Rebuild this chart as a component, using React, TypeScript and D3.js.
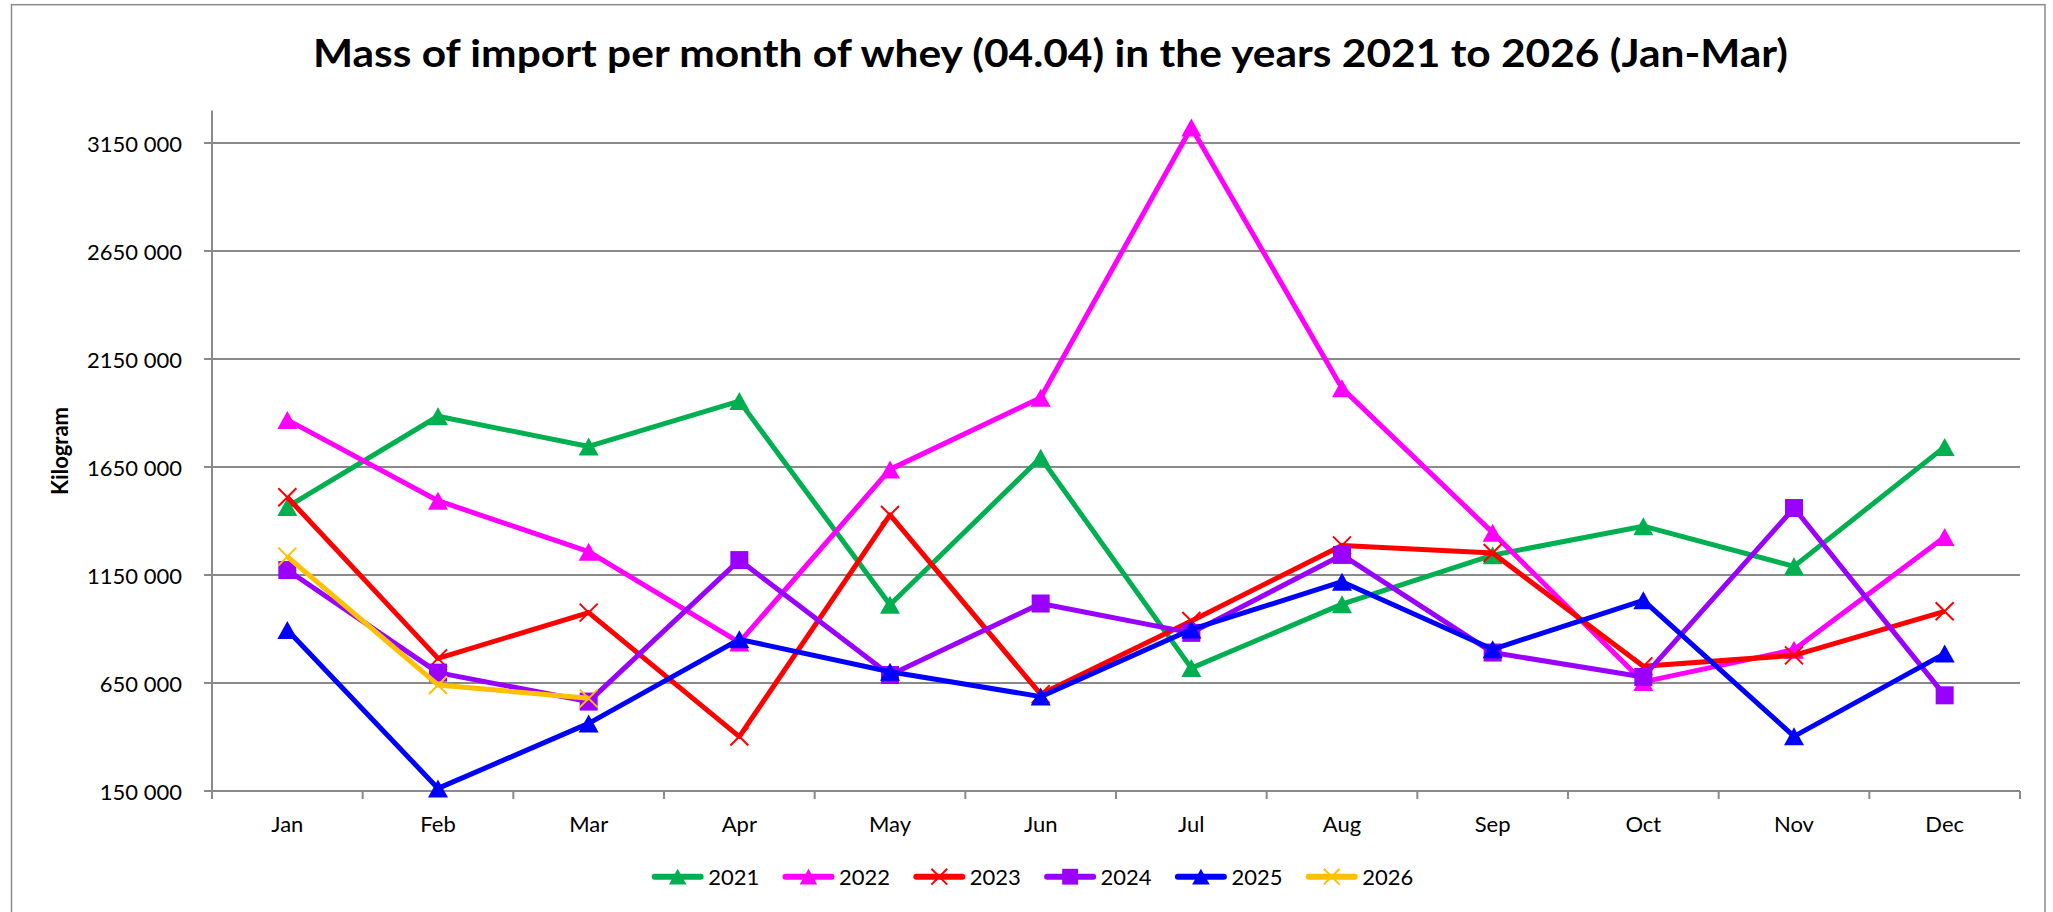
import React from "react";
import * as d3 from "d3";

const months = ["Jan", "Feb", "Mar", "Apr", "May", "Jun", "Jul", "Aug", "Sep", "Oct", "Nov", "Dec"];
const years = ["2021", "2022", "2023", "2024", "2025", "2026"];

const v2021 = [1465000, 1885000, 1745000, 1955000, 1012000, 1693000, 719000, 1015000, 1242000, 1376000, 1190000, 1743000];
const v2022 = [1868000, 1494000, 1258000, 838000, 1639000, 1971000, 3222000, 2015000, 1346000, 655000, 804000, 1326000];
const v2023 = [1510000, 764000, 976000, 402000, 1428000, 598000, 937000, 1287000, 1252000, 727000, 778000, 982000];
const v2024 = [1173000, 698000, 564000, 1219000, 687000, 1018000, 882000, 1243000, 791000, 678000, 1460000, 593000];
const v2025 = [895000, 162000, 463000, 852000, 702000, 587000, 898000, 1119000, 806000, 1033000, 403000, 786000];
const v2026 = [1235000, 641000, 579000];

const yTicks = [150000, 650000, 1150000, 1650000, 2150000, 2650000, 3150000];
const yTickLabels = ["150 000", "650 000", "1150 000", "1650 000", "2150 000", "2650 000", "3150 000"];

const colors = ["#00B050", "#FF00FF", "#FF0000", "#9900FF", "#0000FF", "#FFC000"];
const markerTypes = ["triangle", "triangle", "x", "square", "triangle", "x"];

const title = "Mass of import per month of whey (04.04) in the years 2021 to 2026 (Jan-Mar)";
const yAxisTitle = "Kilogram";

const seriesValues = [v2021, v2022, v2023, v2024, v2025, v2026];

const FONT = "Lato, 'Open Sans', sans-serif";
const GRID = "#8a8a8a";

function Marker({ type, x, y, color, s = 1 }: { type: string; x: number; y: number; color: string; s?: number }) {
  if (type === "triangle") {
    const w = 10 * s, h = 9 * s;
    return <path d={`M${x},${y - h} L${x + w},${y + h} L${x - w},${y + h} Z`} fill={color} />;
  }
  if (type === "square") {
    const a = 9 * s;
    return <rect x={x - a} y={y - a} width={2 * a} height={2 * a} fill={color} />;
  }
  const a = 9 * s;
  return (
    <path
      d={`M${x - a},${y - a} L${x + a},${y + a} M${x + a},${y - a} L${x - a},${y + a}`}
      stroke={color}
      strokeWidth={2}
      fill="none"
    />
  );
}

export default function App() {
  const W = 2053, H = 912;
  const left = 212, right = 2020, top = 110.6, bottom = 791;
  const x = d3.scaleBand<string>().domain(months).range([left, right]).padding(0);
  const y = d3.scaleLinear().domain([150000, 3300000]).range([bottom, top]);
  const cx = (m: string) => (x(m) as number) + x.bandwidth() / 2;

  const line = d3
    .line<number>()
    .x((_, i) => cx(months[i]))
    .y((d) => y(d));

  const boundaries = d3.range(months.length + 1).map((i) => left + i * x.bandwidth());

  return (
    <svg
      width={W}
      height={H}
      style={{ position: "absolute", left: 0, top: 0, background: "#fff" }}
      fontFamily={FONT}
    >
      <rect x={0} y={0} width={W} height={H} fill="#fff" />
      <rect x={11.5} y={4.7} width={2033.5} height={H + 20} fill="none" stroke="#8c8c8c" strokeWidth={1.5} />

      <text
        x={(313 + 1788) / 2}
        y={66.5}
        textAnchor="middle"
        fontWeight="bold"
        fontSize={38}
        textLength={1475}
        lengthAdjust="spacingAndGlyphs"
        fill="#000"
      >
        {title}
      </text>

      {/* gridlines */}
      {yTicks.map((t, i) =>
        i === 0 ? null : (
          <line key={"g" + t} x1={left - 8} x2={right} y1={y(t)} y2={y(t)} stroke={GRID} strokeWidth={2} />
        )
      )}
      {/* y axis */}
      <line x1={left} x2={left} y1={top} y2={bottom} stroke={GRID} strokeWidth={2} />
      <line x1={left - 8} x2={right} y1={bottom} y2={bottom} stroke={GRID} strokeWidth={2} />
      {boundaries.map((b) => (
        <line key={"t" + b} x1={b} x2={b} y1={bottom} y2={bottom + 8} stroke={GRID} strokeWidth={2} />
      ))}
      {yTicks.map((t, i) => (
        <text key={"yl" + t} x={182} y={y(t)} textAnchor="end" dominantBaseline="central" fontSize={22} fill="#000">
          {yTickLabels[i]}
        </text>
      ))}
      {months.map((m) => (
        <text key={"xl" + m} x={cx(m)} y={831.5} textAnchor="middle" fontSize={22} fill="#000">
          {m}
        </text>
      ))}
      <text
        transform={`translate(59,451) rotate(-90)`}
        textAnchor="middle"
        dominantBaseline="central"
        fontWeight="bold"
        fontSize={22}
        fill="#000"
      >
        {yAxisTitle}
      </text>

      {/* series */}
      {seriesValues.map((vals, si) => (
        <g key={"s" + si}>
          <path
            d={line(vals) || ""}
            fill="none"
            stroke={colors[si]}
            strokeWidth={5}
            strokeLinejoin="round"
          />
          {vals.map((v, i) => (
            <Marker key={i} type={markerTypes[si]} x={cx(months[i])} y={y(v)} color={colors[si]} />
          ))}
        </g>
      ))}

      {/* legend */}
      {years.map((yr, i) => {
        const lx = 651.7 + i * 130.8;
        const ly = 876.7;
        return (
          <g key={"lg" + yr}>
            <line x1={lx + 3} x2={lx + 49} y1={ly} y2={ly} stroke={colors[i]} strokeWidth={6} strokeLinecap="round" />
            <Marker type={markerTypes[i]} x={lx + 26} y={ly} color={colors[i]} s={0.88} />
            <text x={lx + 56.5} y={ly} dominantBaseline="central" fontSize={22} fill="#000">
              {yr}
            </text>
          </g>
        );
      })}
    </svg>
  );
}
